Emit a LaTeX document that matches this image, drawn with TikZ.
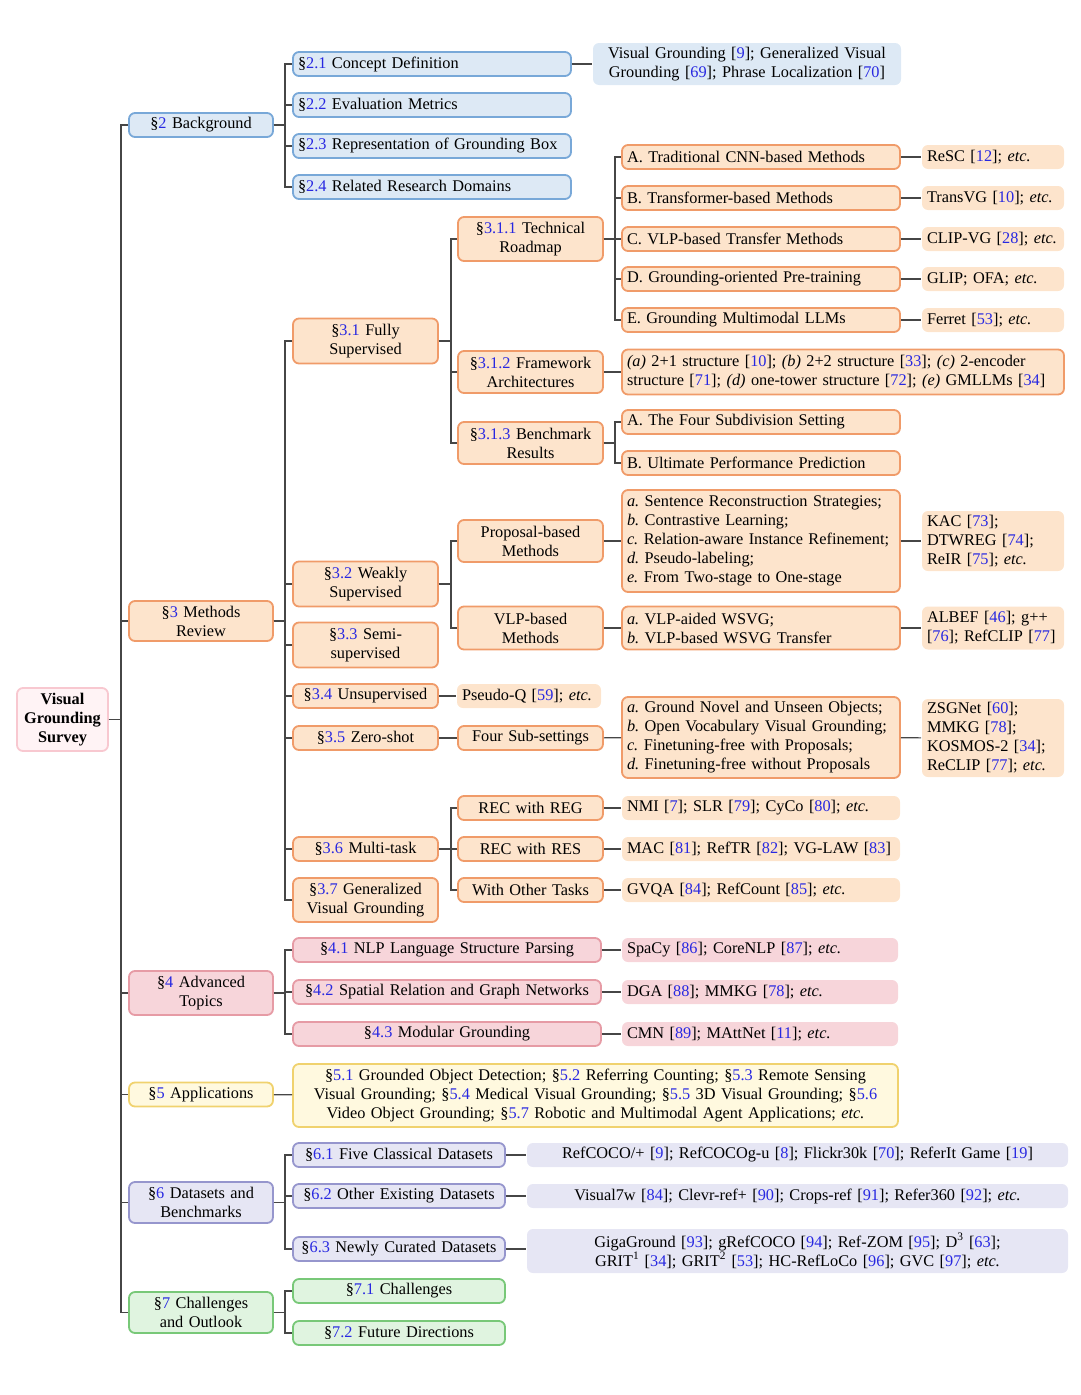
\documentclass[tikz,border=0pt]{standalone}
\usepackage{fontspec}
\setmainfont{Liberation Serif}
\usepackage{xcolor}
\usepackage{tikz}
\usetikzlibrary{positioning}

\definecolor{refblue}{RGB}{40,40,225}
\definecolor{lnkgray}{RGB}{70,70,70}
\definecolor{rootfill}{RGB}{255,243,245}
\definecolor{rootdraw}{RGB}{248,200,208}
\definecolor{bgfill}{RGB}{221,233,245}
\definecolor{bgdraw}{RGB}{120,168,216}
\definecolor{mtfill}{RGB}{253,228,204}
\definecolor{mtdraw}{RGB}{240,155,105}
\definecolor{atfill}{RGB}{247,213,218}
\definecolor{atdraw}{RGB}{230,155,165}
\definecolor{apfill}{RGB}{255,249,223}
\definecolor{apdraw}{RGB}{240,210,110}
\definecolor{dsfill}{RGB}{230,230,244}
\definecolor{dsdraw}{RGB}{150,150,205}
\definecolor{ccfill}{RGB}{224,244,224}
\definecolor{ccdraw}{RGB}{120,200,120}

\newcommand{\sref}[1]{\S\textcolor{refblue}{#1}}
\newcommand{\cit}[1]{[\textcolor{refblue}{#1}]}
\frenchspacing

\begin{document}
\begin{tikzpicture}[x=1pt, y=-1pt,
  font=\fontsize{16.3}{19}\selectfont,
  box/.style={rectangle, rounded corners=6pt, line width=1.8pt, inner xsep=5pt,
              inner ysep=2pt, minimum height=24pt, align=center},
  lft/.style={align=left},
  wd/.code={\pgfmathsetlengthmacro\nodetw{#1-10}\tikzset{text width=\nodetw}},
  ht/.style={minimum height=#1},
  rootbox/.style={box, draw=rootdraw, fill=rootfill, inner xsep=4pt, text width=83pt,
                  minimum height=63pt, font=\fontsize{16.3}{19}\selectfont\bfseries},
  bgb/.style={box, draw=bgdraw, fill=bgfill},
  bgl/.style={box, fill=bgfill},
  mtb/.style={box, draw=mtdraw, fill=mtfill},
  mtl/.style={box, fill=mtfill},
  atb/.style={box, draw=atdraw, fill=atfill},
  atl/.style={box, fill=atfill},
  apb/.style={box, draw=apdraw, fill=apfill},
  dsb/.style={box, draw=dsdraw, fill=dsfill},
  dsl/.style={box, fill=dsfill},
  ccb/.style={box, draw=ccdraw, fill=ccfill},
  lnk/.style={draw=lnkgray, line width=1.2pt},
]
\useasboundingbox (0,0) rectangle (1080,1395);

% root and top level
\node[rootbox] (root) at (62.5,719.5) {Visual\\Grounding\\Survey};
\node[bgb, wd=144] (back) at (201,125) {\sref{2} Background};
\node[mtb, wd=144, ht=40] (meth) at (201,621) {\sref{3} Methods\\Review};
\node[atb, wd=144, ht=44] (adv) at (201,993) {\sref{4} Advanced\\Topics};
\node[apb, wd=144] (app) at (201,1094.5) {\sref{5} Applications};
\node[dsb, wd=144, ht=41] (data) at (201,1202.5) {\sref{6} Datasets and\\Benchmarks};
\node[ccb, wd=144, ht=41] (chal) at (201,1312.5) {\sref{7} Challenges\\and Outlook};

% background
\node[bgb, lft, wd=278] (bg1) at (432,64) {\sref{2.1} Concept Definition};
\node[bgb, lft, wd=278] (bg2) at (432,105) {\sref{2.2} Evaluation Metrics};
\node[bgb, lft, wd=278] (bg3) at (432,146) {\sref{2.3} Representation of Grounding Box};
\node[bgb, lft, wd=278] (bg4) at (432,187) {\sref{2.4} Related Research Domains};
\node[bgl, wd=308, ht=42] (bgx) at (747,64)
  {Visual Grounding \cit{9}; Generalized Visual\\Grounding \cit{69}; Phrase Localization \cit{70}};

% methods review
\node[mtb, wd=145, ht=45] (m1) at (365.5,341) {\sref{3.1} Fully\\Supervised};
\node[mtb, wd=145, ht=45] (m2) at (365.5,584) {\sref{3.2} Weakly\\Supervised};
\node[mtb, wd=145, ht=45] (m3) at (365.5,645) {\sref{3.3} Semi-\\supervised};
\node[mtb, wd=145] (m4) at (365.5,696) {\sref{3.4} Unsupervised};
\node[mtb, wd=145] (m5) at (365.5,738) {\sref{3.5} Zero-shot};
\node[mtb, wd=145] (m6) at (365.5,849) {\sref{3.6} Multi-task};
\node[mtb, wd=145, ht=44] (m7) at (365.5,900) {\sref{3.7} Generalized\\Visual Grounding};

\node[mtb, wd=145, ht=44] (t1) at (530.5,239) {\sref{3.1.1} Technical\\Roadmap};
\node[mtb, wd=145, ht=42] (t2) at (530.5,372) {\sref{3.1.2} Framework\\Architectures};
\node[mtb, wd=145, ht=42] (t3) at (530.5,443) {\sref{3.1.3} Benchmark\\Results};
\node[mtb, wd=145, ht=42] (w1) at (530.5,541) {Proposal-based\\Methods};
\node[mtb, wd=145, ht=43] (w2) at (530.5,628) {VLP-based\\Methods};
\node[mtl, lft, wd=144] (u1) at (529,696) {Pseudo-Q \cit{59}; \emph{etc.}};
\node[mtb, wd=145] (z1) at (530.5,738) {Four Sub-settings};
\node[mtb, wd=145] (k1) at (530.5,808) {REC with REG};
\node[mtb, wd=145] (k2) at (530.5,849) {REC with RES};
\node[mtb, wd=145] (k3) at (530.5,890) {With Other Tasks};

\node[mtb, lft, wd=278] (ra) at (761,157) {A. Traditional CNN-based Methods};
\node[mtb, lft, wd=278] (rb) at (761,198) {B. Transformer-based Methods};
\node[mtb, lft, wd=278] (rc) at (761,239) {C. VLP-based Transfer Methods};
\node[mtb, lft, wd=278] (rd) at (761,279) {D. Grounding-oriented Pre-training};
\node[mtb, lft, wd=278] (re) at (761,320) {E. Grounding Multimodal LLMs};
\node[mtl, lft, wd=142] (la) at (993,157) {ReSC \cit{12}; \emph{etc.}};
\node[mtl, lft, wd=142] (lb) at (993,198) {TransVG \cit{10}; \emph{etc.}};
\node[mtl, lft, wd=142] (lc) at (993,239) {CLIP-VG \cit{28}; \emph{etc.}};
\node[mtl, lft, wd=142] (ld) at (993,279) {GLIP; OFA; \emph{etc.}};
\node[mtl, lft, wd=142] (le) at (993,320) {Ferret \cit{53}; \emph{etc.}};

\node[mtb, lft, wd=442, ht=45] (fa) at (843,372)
  {\emph{(a)} 2+1 structure \cit{10}; \emph{(b)} 2+2 structure \cit{33}; \emph{(c)} 2-encoder\\
   structure \cit{71}; \emph{(d)} one-tower structure \cit{72}; \emph{(e)} GMLLMs \cit{34}};
\node[mtb, lft, wd=278] (ba) at (761,422) {A. The Four Subdivision Setting};
\node[mtb, lft, wd=278] (bb) at (761,463) {B. Ultimate Performance Prediction};

\node[mtb, lft, wd=278, ht=102] (pa) at (761,541)
  {\emph{a.} Sentence Reconstruction Strategies;\\\emph{b.} Contrastive Learning;\\
   \emph{c.} Relation-aware Instance Refinement;\\\emph{d.} Pseudo-labeling;\\
   \emph{e.} From Two-stage to One-stage};
\node[mtl, lft, wd=142, ht=60] (pl) at (993,541)
  {KAC \cit{73};\\DTWREG \cit{74};\\ReIR \cit{75}; \emph{etc.}};
\node[mtb, lft, wd=278, ht=43] (va) at (761,628)
  {\emph{a.} VLP-aided WSVG;\\\emph{b.} VLP-based WSVG Transfer};
\node[mtl, lft, wd=142, ht=43] (vl) at (993,628)
  {ALBEF \cit{46}; g++\\\cit{76}; RefCLIP \cit{77}};
\node[mtb, lft, wd=278, ht=81] (za) at (761,737.5)
  {\emph{a.} Ground Novel and Unseen Objects;\\\emph{b.} Open Vocabulary Visual Grounding;\\
   \emph{c.} Finetuning-free with Proposals;\\\emph{d.} Finetuning-free without Proposals};
\node[mtl, lft, wd=142, ht=78] (zl) at (993,738)
  {ZSGNet \cit{60};\\MMKG \cit{78};\\KOSMOS-2 \cit{34};\\ReCLIP \cit{77}; \emph{etc.}};
\node[mtl, lft, wd=278] (kl1) at (761,808) {NMI \cit{7}; SLR \cit{79}; CyCo \cit{80}; \emph{etc.}};
\node[mtl, lft, wd=278] (kl2) at (761,849) {MAC \cit{81}; RefTR \cit{82}; VG-LAW \cit{83}};
\node[mtl, lft, wd=278] (kl3) at (761,890) {GVQA \cit{84}; RefCount \cit{85}; \emph{etc.}};

% advanced topics
\node[atb, wd=308] (a1) at (447,950) {\sref{4.1} NLP Language Structure Parsing};
\node[atb, wd=308] (a2) at (447,992) {\sref{4.2} Spatial Relation and Graph Networks};
\node[atb, wd=308] (a3) at (447,1034) {\sref{4.3} Modular Grounding};
\node[atl, lft, wd=276] (al1) at (760,950) {SpaCy \cit{86}; CoreNLP \cit{87}; \emph{etc.}};
\node[atl, lft, wd=276] (al2) at (760,992) {DGA \cit{88}; MMKG \cit{78}; \emph{etc.}};
\node[atl, lft, wd=276] (al3) at (760,1034) {CMN \cit{89}; MAttNet \cit{11}; \emph{etc.}};

% applications
\node[apb, wd=605, ht=63] (apx) at (595.5,1095.5)
  {\sref{5.1} Grounded Object Detection; \sref{5.2} Referring Counting; \sref{5.3} Remote Sensing\\
   Visual Grounding; \sref{5.4} Medical Visual Grounding; \sref{5.5} 3D Visual Grounding; \sref{5.6}\\
   Video Object Grounding; \sref{5.7} Robotic and Multimodal Agent Applications; \emph{etc.}};

% datasets
\node[dsb, wd=212] (d1) at (399,1155) {\sref{6.1} Five Classical Datasets};
\node[dsb, wd=212] (d2) at (399,1196) {\sref{6.2} Other Existing Datasets};
\node[dsb, wd=212] (d3) at (399,1249) {\sref{6.3} Newly Curated Datasets};
\node[dsl, wd=541] (dl1) at (797.5,1155)
  {RefCOCO/+ \cit{9}; RefCOCOg-u \cit{8}; Flickr30k \cit{70}; ReferIt Game \cit{19}};
\node[dsl, wd=541] (dl2) at (797.5,1196)
  {Visual7w \cit{84}; Clevr-ref+ \cit{90}; Crops-ref \cit{91}; Refer360 \cit{92}; \emph{etc.}};
\node[dsl, wd=541, ht=44] (dl3) at (797.5,1251)
  {GigaGround \cit{93}; gRefCOCO \cit{94}; Ref-ZOM \cit{95}; D\textsuperscript{3} \cit{63};\\
   GRIT\textsuperscript{1} \cit{34}; GRIT\textsuperscript{2} \cit{53}; HC-RefLoCo \cit{96}; GVC \cit{97}; \emph{etc.}};

% challenges
\node[ccb, wd=212] (c1) at (399,1291) {\sref{7.1} Challenges};
\node[ccb, wd=212] (c2) at (399,1333) {\sref{7.2} Future Directions};

% tree lines
\foreach \c in {back,meth,adv,app,data,chal}
  \draw[lnk] (root.east) -- ++(12,0) |- (\c.west);
\foreach \c in {bg1,bg2,bg3,bg4}
  \draw[lnk] (back.east) -- ++(11,0) |- (\c.west);
\draw[lnk] (bg1) -- (bgx);
\foreach \c in {m1,m2,m3,m4,m5,m6,m7}
  \draw[lnk] (meth.east) -- ++(11,0) |- (\c.west);
\foreach \c in {t1,t2,t3}
  \draw[lnk] (m1.east) -- ++(12,0) |- (\c.west);
\foreach \c in {ra,rb,rc,rd,re}
  \draw[lnk] (t1.east) -- ++(11,0) |- (\c.west);
\foreach \a/\b in {ra/la,rb/lb,rc/lc,rd/ld,re/le}
  \draw[lnk] (\a) -- (\b);
\draw[lnk] (t2) -- (fa);
\foreach \c in {ba,bb}
  \draw[lnk] (t3.east) -- ++(11,0) |- (\c.west);
\foreach \c in {w1,w2}
  \draw[lnk] (m2.east) -- ++(12,0) |- (\c.west);
\draw[lnk] (w1) -- (pa);
\draw[lnk] (pa) -- (pl);
\draw[lnk] (w2) -- (va);
\draw[lnk] (va) -- (vl);
\draw[lnk] (m4) -- (u1);
\draw[lnk] (m5) -- (z1);
\draw[lnk] (z1) -- (za);
\draw[lnk] (za) -- (zl);
\foreach \c in {k1,k2,k3}
  \draw[lnk] (m6.east) -- ++(12,0) |- (\c.west);
\foreach \a/\b in {k1/kl1,k2/kl2,k3/kl3}
  \draw[lnk] (\a) -- (\b);
\foreach \c in {a1,a2,a3}
  \draw[lnk] (adv.east) -- ++(11,0) |- (\c.west);
\foreach \a/\b in {a1/al1,a2/al2,a3/al3}
  \draw[lnk] (\a) -- (\b);
\draw[lnk] (app) -- (apx);
\foreach \c in {d1,d2,d3}
  \draw[lnk] (data.east) -- ++(11,0) |- (\c.west);
\foreach \a/\b in {d1/dl1,d2/dl2}
  \draw[lnk] (\a) -- (\b);
\draw[lnk] (d3.east) -- (d3.east -| dl3.west);
\foreach \c in {c1,c2}
  \draw[lnk] (chal.east) -- ++(11,0) |- (\c.west);
\end{tikzpicture}
\end{document}
